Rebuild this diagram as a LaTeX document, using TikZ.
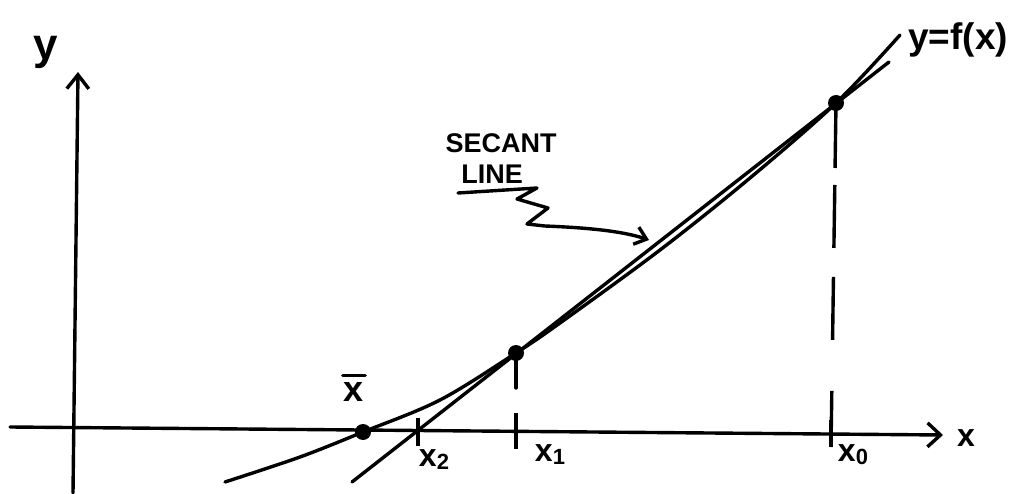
\documentclass[tikz,border=0pt]{standalone}
\usepackage{fontspec}
\setmainfont{Liberation Sans}
\usetikzlibrary{arrows.meta}
\tikzset{
  pen/.style={line width=3.4pt, line cap=round, line join=round},
  dot/.style={circle, fill=black, inner sep=0pt, minimum size=16pt},
  lbl/.style={inner sep=0pt, font=\bfseries\fontsize{32}{34}\selectfont},
  note/.style={inner sep=0pt, font=\bfseries\fontsize{27}{30}\selectfont},
  tick/.style={line width=4pt},
  barb/.style={-{Straight Barb[length=13pt,width=24pt,line width=3.4pt]}}
}
\newcommand{\subx}[1]{x\raisebox{-3pt}{\fontsize{22}{24}\selectfont #1}}
\begin{document}
\begin{tikzpicture}[x=1pt,y=-1pt]
\path[use as bounding box, fill=white] (0,0) rectangle (1017,494);

% axes
\coordinate (xl) at (10,427);
\coordinate (xr) at (943,435);
\coordinate (yb) at (73,493);
\coordinate (yt) at (78,72);
\draw[pen, barb] (xl) -- (xr);
\draw[pen, -{Straight Barb[length=14pt,width=22pt,line width=3.4pt]}] (yb) -- (yt);
\node[lbl] (xlab) at (966,438) {x};
\node[inner sep=0pt, font=\bfseries\fontsize{44}{46}\selectfont] (ylab) at (46,52) {y};

% points
\node[dot] (xbar) at (363,432) {};
\node[dot] (p1) at (516,353) {};
\node[dot] (p0) at (836,103) {};

% curve y = f(x)
\draw[pen] plot[smooth, tension=0.55] coordinates {
  (225,482) (300,457) (363,432) (440,400) (516,353)
  (560,323) (660,250) (750,178) (836,103) (900,35)};
\node[inner sep=0pt, anchor=west, font=\bfseries\fontsize{37}{40}\selectfont] (flab) at (908,40) {y=f(x)};

% secant line (through p1 and p0)
\coordinate (s1) at (352,482);
\coordinate (s2) at (889,62);
\draw[pen] (s1) -- (s2);

% ticks on x-axis
\coordinate (t2a) at (418,418); \coordinate (t2b) at (418,446);
\coordinate (t1a) at (516,413); \coordinate (t1b) at (516,449);
\coordinate (t0a) at (831,420); \coordinate (t0b) at (831,447);
\draw[tick] (t2a) -- (t2b);
\draw[tick] (t1a) -- (t1b);
\draw[tick] (t0a) -- (t0b);

% vertical from x1 point
\coordinate (v1) at (516,388);
\draw[pen] (p1.center) -- (v1);
% dashed vertical from x0 point
\draw[pen, line cap=butt, dash pattern=on 65pt off 17pt on 63pt off 29pt on 63pt off 51pt on 60pt]
  (p0.center) -- (t0b);

% labels on x-axis
\node[lbl, font=\bfseries\fontsize{36}{38}\selectfont] (xbarlab) at (354,392) {x};
\draw[pen] ([xshift=-1pt,yshift=7pt]xbarlab.north west) -- ([xshift=1pt,yshift=7pt]xbarlab.north east);
\node[lbl] (x2lab) at (434,460) {\subx{2}};
\node[lbl] (x1lab) at (550,455) {\subx{1}};
\node[lbl] (x0lab) at (853,455) {\subx{0}};

% secant label with zigzag arrow
\node[note] (sec) at (501,143) {SECANT};
\node[note] (line) at (492,174) {LINE};
\coordinate (u1) at (458,193);
\coordinate (u2) at (537,188);
\coordinate (tip) at (649,240);
\draw[pen, -{Straight Barb[length=11pt,width=18pt,line width=3.4pt]}]
  (u1) -- (u2) -- (517,199) -- (548,208) -- (527,224) -- (545,226)
  .. controls (595,228) and (625,232) .. (tip);
\end{tikzpicture}
\end{document}
